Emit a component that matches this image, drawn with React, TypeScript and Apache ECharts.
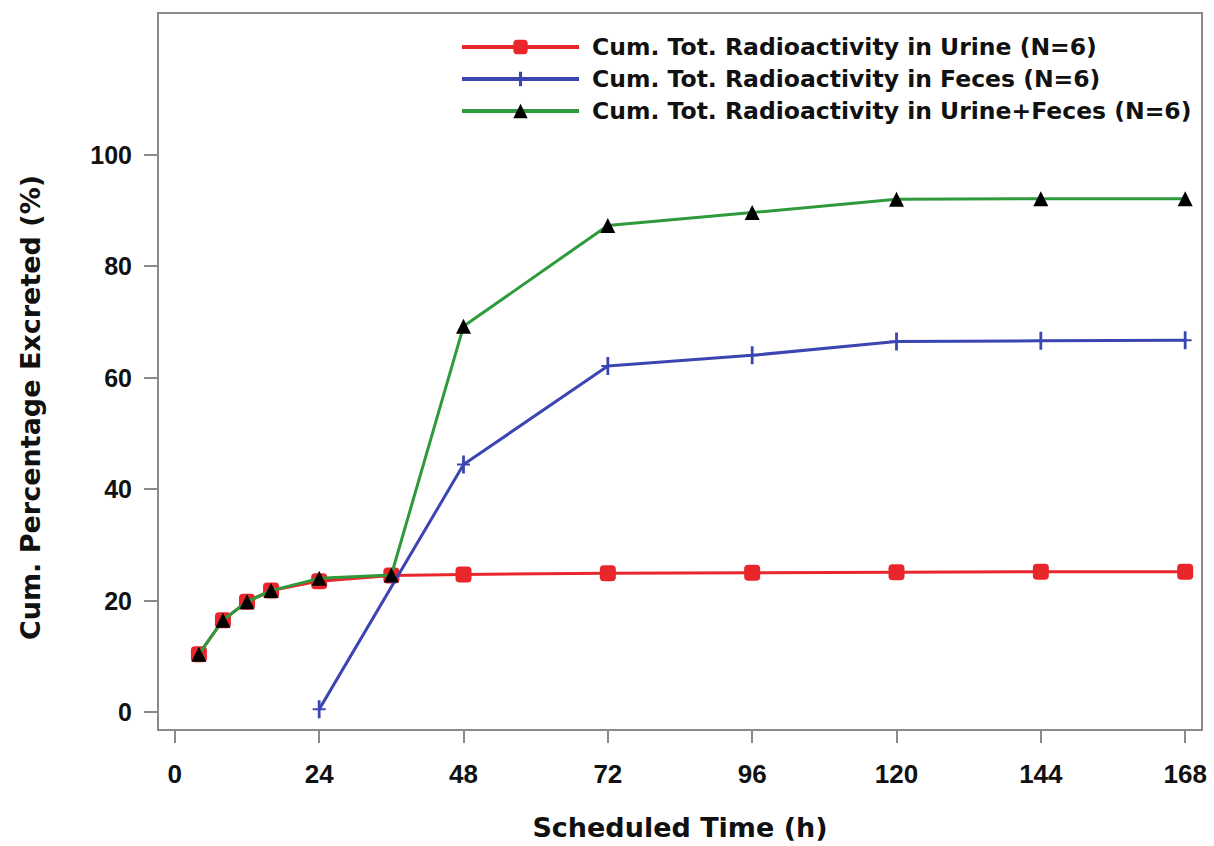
import React, { useEffect, useRef } from "react";
import * as echarts from "echarts";

// Scheduled collection times (h)
const urineTimes = [4, 8, 12, 16, 24, 36, 48, 72, 96, 120, 144, 168];
const fecesTimes = [24, 48, 72, 96, 120, 144, 168];

// Cumulative % of total radioactivity excreted
const urineValues = [10.4, 16.5, 19.8, 21.8, 23.5, 24.5, 24.7, 24.9, 25.0, 25.1, 25.2, 25.2];
const fecesValues = [0.5, 44.4, 62.1, 64.0, 66.5, 66.6, 66.7];
const totalValues = [10.4, 16.5, 19.8, 21.8, 24.0, 24.6, 69.2, 87.3, 89.6, 92.0, 92.1, 92.1];

const xTicks = [0, 24, 48, 72, 96, 120, 144, 168];
const yTicks = [0, 20, 40, 60, 80, 100];

const seriesNames = [
  "Cum. Tot. Radioactivity in Urine (N=6)",
  "Cum. Tot. Radioactivity in Feces (N=6)",
  "Cum. Tot. Radioactivity in Urine+Feces (N=6)",
];

const FONT = "'Liberation Sans', Arial, Helvetica, sans-serif";
const WIDE_FONT = "'DejaVu Sans', Verdana, sans-serif";
const PLUS = "path://M5.5,0 L8.5,0 L8.5,8 L14,8 L14,10 L8.5,10 L8.5,18 L5.5,18 L5.5,10 L0,10 L0,8 L5.5,8 Z";

const pair = (xs: number[], ys: number[]) => xs.map((x, i) => [x, ys[i]]);

export default function App() {
  const ref = useRef<HTMLDivElement>(null);

  useEffect(() => {
    if (!ref.current) return;
    const chart = echarts.init(ref.current, undefined, { renderer: "svg" });
    const axisGray = "#8a8a8a";
    chart.setOption({
      animation: false,
      backgroundColor: "#ffffff",
      grid: {
        left: 158,
        top: 13,
        right: 12,
        bottom: 114,
        show: true,
        borderColor: axisGray,
        borderWidth: 2,
        backgroundColor: "transparent",
      },
      legend: {
        orient: "vertical",
        left: 455,
        top: 30,
        itemWidth: 117,
        itemHeight: 18,
        itemGap: 8,
        lineStyle: { width: 4 },
        textStyle: {
          fontFamily: WIDE_FONT,
          fontWeight: "bold",
          fontSize: 23.5,
          color: "#111",
          padding: [0, 0, 0, 8],
        },
        data: seriesNames,
      },
      xAxis: {
        type: "value",
        min: -2.8,
        max: 170.8,
        name: "Scheduled Time (h)",
        nameLocation: "middle",
        nameGap: 84,
        nameTextStyle: { fontFamily: WIDE_FONT, fontWeight: "bold", fontSize: 27, color: "#111" },
        axisLine: { show: false, onZero: false },
        splitLine: { show: false },
        axisTick: { show: true, length: 13, lineStyle: { color: axisGray, width: 2 }, customValues: xTicks },
        axisLabel: {
          customValues: xTicks,
          margin: 31,
          fontFamily: FONT,
          fontWeight: "bold",
          fontSize: 26,
          color: "#111",
        },
      },
      yAxis: {
        type: "value",
        min: -3.2,
        max: 125.4,
        name: "Cum. Percentage Excreted (%)",
        nameLocation: "middle",
        nameRotate: 90,
        nameGap: 114,
        nameTextStyle: {
          fontFamily: WIDE_FONT,
          fontWeight: "bold",
          fontSize: 27,
          color: "#111",
          padding: [0, 72, 0, 0],
        },
        axisLine: { show: false, onZero: false },
        splitLine: { show: false },
        axisTick: { show: true, length: 14, lineStyle: { color: axisGray, width: 2 }, customValues: yTicks },
        axisLabel: {
          customValues: yTicks,
          margin: 26,
          fontFamily: FONT,
          fontWeight: "bold",
          fontSize: 25,
          color: "#111",
        },
      },
      series: [
        {
          name: seriesNames[0],
          type: "line",
          data: pair(urineTimes, urineValues),
          lineStyle: { color: "#e8262b", width: 3 },
          itemStyle: { color: "#e8262b" },
          symbol: "roundRect",
          symbolSize: 16,
          z: 2,
        },
        {
          name: seriesNames[1],
          type: "line",
          data: pair(fecesTimes, fecesValues),
          lineStyle: { color: "#3b46b2", width: 3 },
          itemStyle: { color: "#3b46b2" },
          symbol: PLUS,
          symbolSize: [13, 18],
          z: 3,
        },
        {
          name: seriesNames[2],
          type: "line",
          data: pair(urineTimes, totalValues),
          lineStyle: { color: "#2f9a3c", width: 3 },
          itemStyle: { color: "#000000" },
          symbol: "triangle",
          symbolSize: 15,
          z: 4,
        },
      ],
    });
    return () => chart.dispose();
  }, []);

  return (
    <div
      ref={ref}
      style={{ position: "fixed", left: 0, top: 0, width: 1214, height: 846, background: "#fff" }}
    />
  );
}
